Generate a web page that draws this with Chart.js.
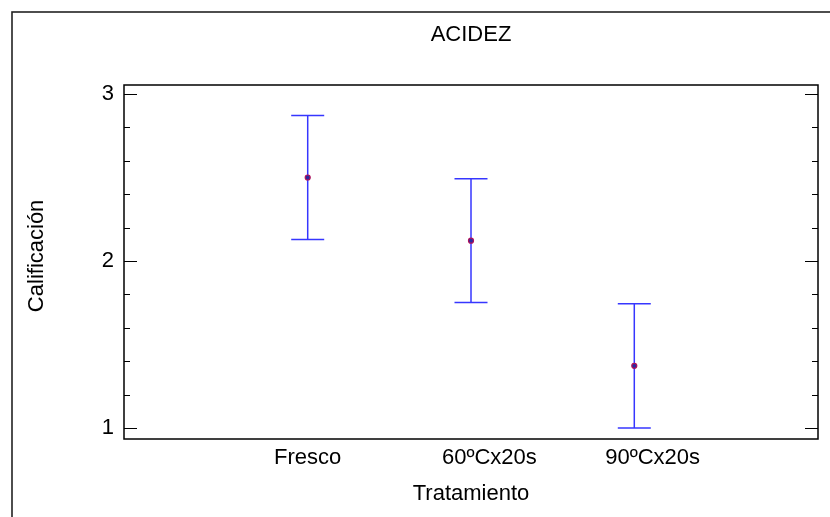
<!DOCTYPE html>
<html>
<head>
<meta charset="utf-8">
<script src="https://cdn.jsdelivr.net/npm/chart.js@4.4.1/dist/chart.umd.min.js"></script>
<style>
  html, body { margin: 0; background: #fff; overflow: hidden; }
  canvas { display: block; }
</style>
</head>
<body>
<canvas id="acidezChart" width="830" height="517"></canvas>
<script>
// medias por tratamiento con su intervalo
var tratamientos = ["Fresco", "60ºCx20s", "90ºCx20s"];
var medias = [2.5, 2.122, 1.372];
var limiteInf = [2.128, 1.751, 1.0];
var limiteSup = [2.872, 2.493, 1.744];
var yTicks = [1, 2, 3];

var fuente = { family: "Arial, 'Liberation Sans', sans-serif", size: 22, weight: 'normal' };
var azul = '#3636ff';

// marco exterior, caja del grafico y marcas del eje Y hacia dentro
var marcoPlugin = {
  id: 'marco',
  beforeDraw: function(chart) {
    var ctx = chart.ctx;
    ctx.save();
    ctx.strokeStyle = '#222';
    ctx.lineWidth = 1.6;
    ctx.strokeRect(12, 12, chart.width, chart.height);
    ctx.restore();
  },
  afterDraw: function(chart) {
    var ctx = chart.ctx, a = chart.chartArea, y = chart.scales.y;
    ctx.save();
    ctx.strokeStyle = '#000';
    ctx.lineWidth = 1.5;
    ctx.strokeRect(a.left, a.top, a.right - a.left, a.bottom - a.top);
    ctx.lineWidth = 1.2;
    for (var v = 10; v <= 30; v += 2) {
      var py = Math.round(y.getPixelForValue(v / 10)) + 0.5;
      var len = (v % 10 === 0) ? 13 : 6;
      ctx.beginPath();
      ctx.moveTo(a.left, py); ctx.lineTo(a.left + len, py);
      ctx.moveTo(a.right, py); ctx.lineTo(a.right - len, py);
      ctx.stroke();
    }
    ctx.restore();
  }
};

var barras = tratamientos.map(function(t, i) {
  return {
    label: t,
    data: [{ x: i + 1, y: limiteInf[i] }, { x: i + 1, y: limiteSup[i] }],
    showLine: true,
    borderColor: azul,
    borderWidth: 1.5,
    pointStyle: 'line',
    pointRadius: 16.5,
    pointBorderColor: azul,
    pointBorderWidth: 1.5,
    order: 2
  };
});

var puntosMedia = {
  label: 'Media',
  data: medias.map(function(m, i) { return { x: i + 1, y: m }; }),
  pointStyle: 'circle',
  pointRadius: 2.5,
  pointBorderWidth: 1.2,
  pointBorderColor: '#b0105a',
  pointBackgroundColor: '#2a2aa0',
  order: 1
};

var ctx = document.getElementById('acidezChart').getContext('2d');
var chart = new Chart(ctx, {
  type: 'scatter',
  data: { datasets: [puntosMedia].concat(barras) },
  plugins: [marcoPlugin],
  options: {
    responsive: false,
    animation: false,
    events: [],
    layout: {
      autoPadding: false,
      padding: { top: 0, right: 12, left: 0, bottom: 0 }
    },
    plugins: {
      legend: { display: false },
      tooltip: { enabled: false },
      title: {
        display: true,
        text: 'ACIDEZ',
        color: '#000',
        font: fuente,
        fullSize: false,
        padding: { top: 22, bottom: 36.6 }
      }
    },
    scales: {
      x: {
        type: 'linear',
        min: -0.125,
        max: 4.125,
        afterBuildTicks: function(s) {
          s.ticks = tratamientos.map(function(t, i) { return { value: i + 1 }; });
        },
        afterFit: function(s) { s.height = 78; },
        grid: { display: false, drawTicks: false },
        border: { display: false },
        ticks: {
          autoSkip: false,
          maxRotation: 0,
          color: '#000',
          font: fuente,
          padding: 6,
          callback: function(v) {
            var t = tratamientos[v - 1];
            // las etiquetas de tratamientos quedan algo corridas a la derecha
            return v > 1 ? '      ' + t : t;
          }
        },
        title: {
          display: true,
          text: 'Tratamiento',
          color: '#000',
          font: fuente,
          padding: { top: 0, bottom: 10 }
        }
      },
      y: {
        min: 0.934,
        max: 3.054,
        afterBuildTicks: function(s) {
          s.ticks = yTicks.map(function(v) { return { value: v }; });
        },
        afterFit: function(s) { s.width = 124; },
        grid: { display: false, drawTicks: false },
        border: { display: false },
        ticks: { color: '#000', font: fuente, padding: 10 },
        title: {
          display: true,
          text: '  Calificación',
          color: '#000',
          font: fuente,
          padding: { top: 24, bottom: 0 }
        }
      }
    }
  }
});
</script>
</body>
</html>
